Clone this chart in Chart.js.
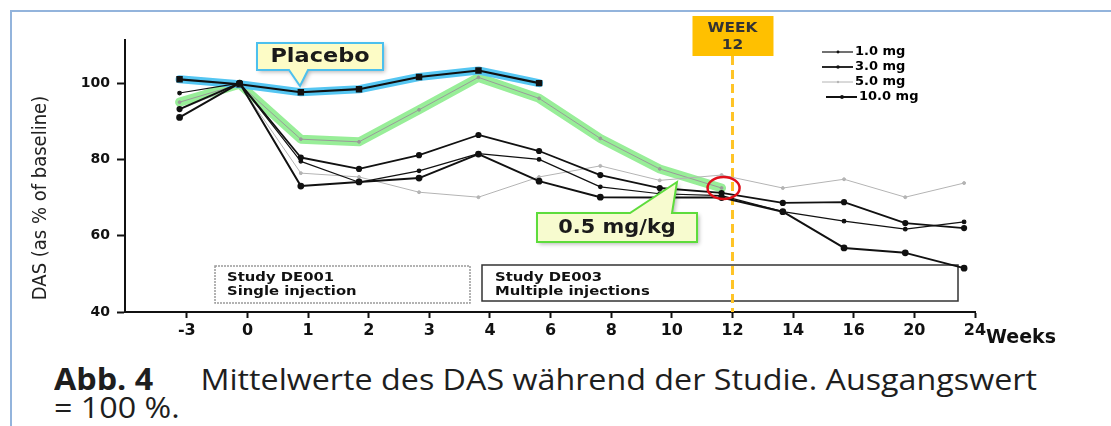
<!DOCTYPE html>
<html>
<head>
<meta charset="utf-8">
<script src="https://cdn.jsdelivr.net/npm/chart.js@4.4.1/dist/chart.umd.min.js"></script>
<style>
  html, body { margin: 0; padding: 0; background: #fff; }
  #wrap { position: relative; width: 1111px; height: 426px; overflow: hidden; }
  #frame { position: absolute; left: 10px; top: 10px; width: 1200px; height: 500px;
           border-top: 2px solid #93b4dc; border-left: 2px solid #93b4dc; }
  #chart { position: absolute; left: 0; top: 0; }
  #caption { position: absolute; left: 54px; top: 365px; font-family: 'Open Sans', sans-serif;
             font-size: 30px; line-height: 28px; color: #1e1e1e; white-space: nowrap;
             transform: scaleX(1.075); transform-origin: 0 0; }
  #caption b { font-weight: 700; margin-right: 44px; }
</style>
</head>
<body>
<div id="wrap">
  <div id="frame"></div>
  <canvas id="chart" width="1111" height="350"></canvas>
  <div id="caption"><b>Abb. 4</b>Mittelwerte des DAS während der Studie. Ausgangswert<br>= 100 %.</div>
</div>
<script>
// week categories on the x axis and where each measured point sits (in category units)
const xLabels = ['-3', '0', '1', '2', '3', '4', '6', '8', '10', '12', '14', '16', '20', '24'];
const xPos = [-0.12, 0.87, 1.88, 2.84, 3.83, 4.81, 5.81, 6.82, 7.8, 8.82, 9.83, 10.84, 11.85, 12.82];
const yTicks = [40, 60, 80, 100];

const placebo = [101, 99.7, 97.6, 98.4, 101.6, 103.3, 100];
const mgkg05 = [95, 99.7, 85.3, 84.6, 93, 101.5, 96, 85.5, 77.5, 72.5];
const dose1 = [97.4, 100, 79.5, 74, 77, 81.5, 80, 72.8, 71, 70.5, 66.3, 63.8, 61.7, 63.6];
const dose3 = [93.2, 100, 80.5, 77.5, 81.1, 86.4, 82.2, 75.9, 72.5, 71.2, 68.6, 68.8, 63.3, 62];
const dose5 = [93, 99.7, 76.4, 75.4, 71.4, 70.1, 75.4, 78.3, 74.5, 75.9, 72.5, 74.8, 70.1, 73.8];
const dose10 = [91, 100, 73, 74.1, 75.1, 81.4, 74.3, 70.1, 70, 70, 66.3, 56.8, 55.5, 51.5];

const week12 = 9; // index of the "12" tick

function pts(vals) {
    return vals.map(function (v, i) { return {x: xPos[i], y: v}; });
}

const doseSets = [
    {label: '1.0 mg', data: pts(dose1), borderColor: '#111', backgroundColor: '#111', borderWidth: 1.2, pointRadius: 1.8},
    {label: '3.0 mg', data: pts(dose3), borderColor: '#111', backgroundColor: '#111', borderWidth: 1.8, pointRadius: 2.2},
    {label: '5.0 mg', data: pts(dose5), borderColor: '#b4b4b4', backgroundColor: '#b4b4b4', borderWidth: 1, pointRadius: 1.5},
    {label: '10.0 mg', data: pts(dose10), borderColor: '#111', backgroundColor: '#111', borderWidth: 2, pointRadius: 2.4}
];

// text stretched sideways, the source picture is wider than tall
function wideText(ctx, text, x, y, sx, align) {
    ctx.save();
    ctx.translate(x, y);
    ctx.scale(sx, 1);
    ctx.textAlign = align || 'left';
    ctx.fillText(text, 0, 0);
    ctx.restore();
}

function callout(ctx, poly, fill, stroke, text, font, tx, ty, sx) {
    ctx.save();
    ctx.beginPath();
    ctx.moveTo(poly[0][0], poly[0][1]);
    for (let i = 1; i < poly.length; i++) ctx.lineTo(poly[i][0], poly[i][1]);
    ctx.closePath();
    ctx.shadowColor = 'rgba(0,0,0,0.3)';
    ctx.shadowBlur = 4;
    ctx.shadowOffsetX = 2;
    ctx.shadowOffsetY = 2;
    ctx.fillStyle = fill;
    ctx.fill();
    ctx.shadowColor = 'transparent';
    ctx.lineWidth = 2;
    ctx.strokeStyle = stroke;
    ctx.stroke();
    ctx.fillStyle = '#1a1a1a';
    ctx.font = font;
    ctx.textBaseline = 'middle';
    wideText(ctx, text, tx, ty, sx, 'center');
    ctx.restore();
}

const extras = {
    id: 'extras',
    beforeDatasetsDraw: function (chart) {
        const ctx = chart.ctx, xs = chart.scales.x, area = chart.chartArea;
        ctx.save();
        // study boxes
        ctx.lineWidth = 1.5;
        ctx.strokeStyle = '#9a9a9a';
        ctx.setLineDash([2, 1]);
        ctx.strokeRect(215, 266, 255, 37);
        ctx.setLineDash([]);
        ctx.strokeStyle = '#333';
        ctx.strokeRect(482, 265, 476, 36);
        ctx.fillStyle = '#111';
        ctx.font = 'bold 13px "DejaVu Sans"';
        ctx.textBaseline = 'middle';
        wideText(ctx, 'Study DE001', 227, 278, 1.14);
        wideText(ctx, 'Single injection', 227, 292, 1.14);
        wideText(ctx, 'Study DE003', 495, 278, 1.14);
        wideText(ctx, 'Multiple injections', 495, 292, 1.14);
        // week 12 marker
        const wx = xs.getPixelForValue(week12);
        ctx.strokeStyle = '#ffc426';
        ctx.lineWidth = 3;
        ctx.setLineDash([9, 5]);
        ctx.beginPath();
        ctx.moveTo(wx, 56);
        ctx.lineTo(wx, area.bottom);
        ctx.stroke();
        ctx.setLineDash([]);
        ctx.fillStyle = '#ffc000';
        ctx.fillRect(wx - 40, 16, 81, 40);
        ctx.fillStyle = '#333';
        ctx.font = 'bold 14px "DejaVu Sans"';
        wideText(ctx, 'WEEK', wx, 28, 1.1, 'center');
        wideText(ctx, '12', wx, 45, 1.1, 'center');
        ctx.restore();
    },
    afterDraw: function (chart) {
        const ctx = chart.ctx;
        ctx.save();
        // y axis title
        ctx.translate(41, 198);
        ctx.rotate(-Math.PI / 2);
        ctx.fillStyle = '#222';
        ctx.font = '20px "Liberation Sans Narrow", "DejaVu Sans Condensed"';
        ctx.textAlign = 'center';
        ctx.textBaseline = 'middle';
        ctx.fillText('DAS (as % of baseline)', 0, 0);
        ctx.restore();

        ctx.save();
        ctx.fillStyle = '#111';
        ctx.font = 'bold 19px "DejaVu Sans"';
        ctx.textBaseline = 'middle';
        ctx.fillText('Weeks', 986, 338);
        ctx.restore();

        // red circle round the last 0.5 mg/kg point
        const meta = chart.getDatasetMeta(5);
        const last = meta.data[meta.data.length - 1];
        ctx.save();
        ctx.strokeStyle = '#e0101a';
        ctx.lineWidth = 2.5;
        ctx.beginPath();
        ctx.ellipse(last.x + 2, last.y, 16, 11, 0, 0, Math.PI * 2);
        ctx.stroke();
        ctx.restore();

        // legend
        ctx.save();
        doseSets.forEach(function (d, i) {
            const y = 52 + i * 15;
            const dx = i === 3 ? 4 : 0;
            ctx.strokeStyle = d.borderColor;
            ctx.lineWidth = d.borderWidth;
            ctx.beginPath();
            ctx.moveTo(822 + dx, y);
            ctx.lineTo(853 + dx, y);
            ctx.stroke();
            ctx.fillStyle = d.borderColor;
            ctx.beginPath();
            ctx.arc(838 + dx, y, d.pointRadius * 0.8, 0, Math.PI * 2);
            ctx.fill();
            ctx.fillStyle = '#000';
            ctx.font = 'bold 13px "DejaVu Sans"';
            ctx.textBaseline = 'middle';
            ctx.fillText(d.label, 855 + dx, y);
        });
        ctx.restore();

        callout(ctx, [[257, 43], [383, 43], [383, 70], [308, 70], [300, 86], [289, 70], [257, 70]],
            '#fdfcc6', '#4cc0ee', 'Placebo', 'bold 20px "DejaVu Sans"', 320, 57, 1.12);
        callout(ctx, [[537, 213], [630, 213], [677, 182], [672, 213], [697, 213], [697, 242], [537, 242]],
            '#f7fbcf', '#5ddc3c', '0.5 mg/kg', 'bold 19px "DejaVu Sans"', 617, 228, 1.1);
    }
};

new Chart(document.getElementById('chart'), {
    type: 'line',
    data: {
        datasets: [
            doseSets[3], doseSets[1], doseSets[0], doseSets[2],
            {label: 'Placebo', data: pts(placebo), borderColor: '#111', backgroundColor: '#111', borderWidth: 2.2, pointStyle: 'rect', pointRadius: 3},
            {label: '0.5 mg/kg', data: pts(mgkg05), borderColor: '#9a9a9a', backgroundColor: '#9a9a9a', borderWidth: 1, pointRadius: 1.4},
            {label: 'hl placebo', data: pts(placebo), borderColor: '#55c6f2', borderWidth: 8, pointRadius: 0, order: 10},
            {label: 'hl 0.5', data: pts(mgkg05), borderColor: '#98ee98', borderWidth: 9, pointRadius: 0, order: 10}
        ]
    },
    options: {
        responsive: false,
        animation: false,
        layout: {padding: {left: 28, top: 40, right: 136, bottom: 0}},
        plugins: {legend: {display: false}, tooltip: {enabled: false}},
        elements: {line: {tension: 0, borderJoinStyle: 'round', borderCapStyle: 'round'}},
        scales: {
            x: {
                type: 'linear', min: -1.02, max: 13,
                afterBuildTicks: function (s) { s.ticks = xLabels.map(function (l, i) { return {value: i}; }); },
                afterFit: function (s) { s.height = 38; },
                ticks: {
                    autoSkip: false, maxRotation: 0, padding: 3, color: '#111',
                    font: {family: 'DejaVu Sans', size: 16, weight: 'bold'},
                    callback: function (v) { return xLabels[v]; }
                },
                grid: {drawOnChartArea: false, tickLength: 6, tickWidth: 2, tickColor: '#111'},
                border: {display: true, color: '#111', width: 2}
            },
            y: {
                min: 40, max: 111.3,
                afterBuildTicks: function (s) { s.ticks = yTicks.map(function (v) { return {value: v}; }); },
                afterFit: function (s) { s.width = 97; },
                ticks: {
                    padding: 7, color: '#111',
                    font: {family: 'DejaVu Sans', size: 14, weight: 'bold'}
                },
                grid: {drawOnChartArea: false, tickLength: 8, tickWidth: 2, tickColor: '#111'},
                border: {display: true, color: '#111', width: 2}
            }
        }
    },
    plugins: [extras]
});
</script>
</body>
</html>
